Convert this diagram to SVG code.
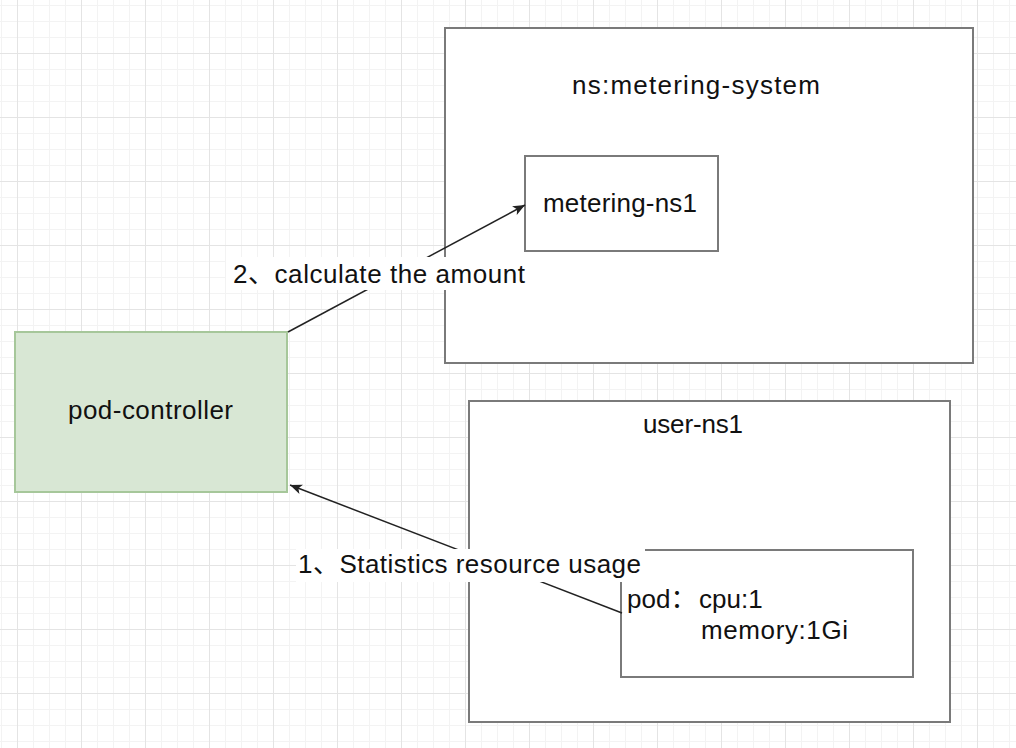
<svg xmlns="http://www.w3.org/2000/svg" width="1016" height="748" viewBox="0 0 1016 748">
<style>
.box{fill:#ffffff;stroke:#7a7a7a;stroke-width:2}
.green{fill:#d8e7d4;stroke:#a6c79a;stroke-width:2}
.t{font-family:"Liberation Sans","Noto Sans CJK SC",Arial,sans-serif;font-size:26px;fill:#111111}
.edge{fill:none;stroke:#222222;stroke-width:1.5}
.lbl{fill:#ffffff}
</style>
<defs>
<pattern id="grid" x="17" y="53" width="64" height="64" patternUnits="userSpaceOnUse">
<rect x="16" y="0" width="1" height="64" fill="#f3f3f3"/>
<rect x="32" y="0" width="1" height="64" fill="#f3f3f3"/>
<rect x="48" y="0" width="1" height="64" fill="#f3f3f3"/>
<rect x="0" y="16" width="64" height="1" fill="#f3f3f3"/>
<rect x="0" y="32" width="64" height="1" fill="#f3f3f3"/>
<rect x="0" y="48" width="64" height="1" fill="#f3f3f3"/>
<rect x="0" y="0" width="1" height="64" fill="#e4e4e4"/>
<rect x="0" y="0" width="64" height="1" fill="#e4e4e4"/>
</pattern>
<marker id="arrow" markerUnits="userSpaceOnUse" markerWidth="14" markerHeight="12" refX="12" refY="5" orient="auto">
<path d="M0,0 L12,5 L0,10 L3,5 Z" fill="#222222"/>
</marker>
</defs>
<rect x="0" y="0" width="1016" height="748" fill="#ffffff"/>
<rect x="0" y="0" width="1016" height="748" fill="url(#grid)"/>

<g id="ns-metering-system">
<rect class="box" x="445" y="28" width="528" height="335"/>
<text class="t" x="572" y="94" textLength="248" lengthAdjust="spacing">ns:metering-system</text>
</g>
<g id="metering-ns1">
<rect class="box" x="525" y="156" width="193" height="95"/>
<text class="t" x="543" y="212" textLength="154" lengthAdjust="spacing">metering-ns1</text>
</g>
<g id="pod-controller">
<rect class="green" x="15" y="332" width="272" height="160"/>
<text class="t" x="68" y="419" textLength="165" lengthAdjust="spacing">pod-controller</text>
</g>
<g id="user-ns1">
<rect class="box" x="469" y="401" width="481" height="321"/>
<text class="t" x="643" y="433" textLength="100" lengthAdjust="spacing">user-ns1</text>
</g>
<g id="pod">
<rect class="box" x="621" y="550" width="292" height="127"/>
<text class="t" y="608"><tspan x="627">pod：</tspan><tspan x="699">cpu:1</tspan></text>
<text class="t" x="701" y="639" textLength="147" lengthAdjust="spacing">memory:1Gi</text>
</g>

<g id="connectors">
<path class="edge" d="M288,332 L525,205" marker-end="url(#arrow)"/>
<rect class="lbl" x="226" y="257" width="306" height="33"/>
<text class="t" x="233" y="283" textLength="292" lengthAdjust="spacing">2、calculate the amount</text>
<path class="edge" d="M622,613 L290,485" marker-end="url(#arrow)"/>
<rect class="lbl" x="296" y="549" width="349" height="33"/>
<text class="t" x="298" y="573" textLength="343" lengthAdjust="spacing">1、Statistics resource usage</text>
</g>
</svg>
